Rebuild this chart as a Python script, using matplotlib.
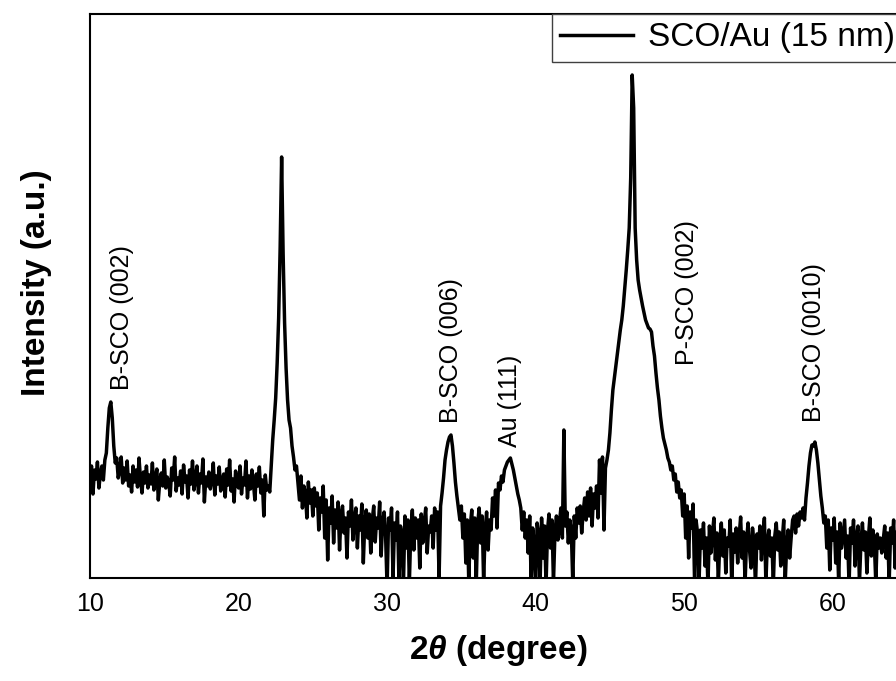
# XRD pattern of SCO/Au (15 nm) film
import matplotlib.pyplot as plt
import numpy as np

plt.rcParams['font.family'] = ['Liberation Sans', 'DejaVu Sans']
plt.rcParams['mathtext.fontset'] = 'custom'
plt.rcParams['mathtext.it'] = 'Liberation Sans:italic:bold'

# -------------------------------
# data (0.1 deg steps, arb. units)
# -------------------------------
start_2theta = 10.0
step_2theta = 0.1

intensity = [
    # 10.0 - 10.9
    95, 112, 84, 108, 99, 116, 90, 104, 112, 98,
    # 11
    118, 125, 150, 170, 176, 160, 132, 115, 120, 100,
    # 12
    108, 121, 95, 110, 98, 117, 92, 103, 86, 112,
    # 13
    96, 108, 91, 120, 99, 85, 106, 95, 112, 90,
    # 14
    103, 94, 115, 88, 100, 109, 78, 97, 105, 92,
    # 15
    118, 90, 101, 95, 82, 110, 98, 121, 87, 100,
    # 16
    93, 107, 84, 113, 96, 102, 80, 108, 94, 117,
    # 17
    88, 99, 112, 85, 104, 95, 119, 76, 101, 92,
    # 18
    106, 89, 98, 115, 83, 102, 94, 111, 87, 97,
    # 19
    104, 81, 109, 93, 118, 87, 99, 76, 107, 95,
    # 20
    90, 112, 84, 100, 93, 117, 80, 102, 89, 108,
    # 21
    95, 78, 104, 92, 111, 85, 98, 62, 103, 88,
    # 22
    92, 86, 112, 138, 158, 180, 215, 260, 330, 421,
    # 23
    325, 255, 210, 178, 158, 150, 132, 121, 108, 112,
    # 24
    95, 78, 102, 70, 92, 84, 60, 96, 75, 88,
    # 25
    62, 90, 72, 85, 48, 80, 66, 92, 40, 78,
    # 26
    18, 70, 55, 82, 35, 68, 50, 76, 28, 64,
    # 27
    72, 45, 60, 20, 66, 52, 78, 38, 58, 70,
    # 28
    30, 62, 48, 74, 15, 56, 68, 40, 64, 25,
    # 29
    58, 72, 36, 60, 50, 76, 22, 55, 66, 42,
    # 30
    -10, 60, 48, 70, 0, 55, 38, 66, -5, 52,
    # 31
    44, -8, 62, 30, 58, -5, 50, 68, 28, 60,
    # 32
    40, 58, 10, 64, 35, 55, 70, 25, 52, 46,
    # 33
    62, 30, 70, 48, 66, 0, 72, 85, 100, 118,
    # 34
    128, 136, 141, 143, 132, 115, 96, 82, 70, 58,
    # 35
    72, 40, 64, 15, 58, -5, 52, 68, 20, 60,
    # 36
    -8, 55, 70, 35, 62, -5, 48, 66, 28, 58,
    # 37
    48, 80, 62, 88, 50, 95, 88, 102, 96, 108,
    # 38
    112, 116, 118, 120, 114, 108, 100, 92, 84, 78,
    # 39
    70, 48, 66, 40, 58, 25, 62, -5, 50, 35,
    # 40
    -10, 55, 44, -5, 60, 20, 52, -8, 48, 64,
    # 41
    30, 58, -5, 45, 62, 38, 55, 70, 40, 148,
    # 42
    52, 66, 35, 58, 48, -5, 62, 40, 70, 55,
    # 43
    72, 45, 66, 80, 58, 86, 62, 90, 52, 84,
    # 44
    70, 92, 60, 118, 85, 121, 48, 110, 118, 128,
    # 45
    145, 168, 188, 200, 212, 224, 236, 248, 258, 272,
    # 46
    290, 308, 328, 350, 400, 503, 470, 350, 318, 298,
    # 47
    288, 280, 272, 265, 258, 254, 250, 249, 246, 232,
    # 48
    222, 205, 190, 178, 162, 150, 140, 134, 128, 120,
    # 49
    116, 108, 112, 98, 104, 86, 96, 80, 88, 62,
    # 50
    84, 40, 72, 20, 66, 50, 74, -5, 58, 45,
    # 51
    -5, 48, 30, 55, 12, 40, -8, 52, 25, 44,
    # 52
    60, 18, 45, -5, 38, 55, 22, 48, 5, 40,
    # 53
    32, 58, -8, 44, 26, 50, 15, 42, 61, 20,
    # 54
    46, -5, 38, 55, 28, 10, 50, 35, -8, 44,
    # 55
    30, 52, 18, 45, 60, -5, 36, 48, 22, 40,
    # 56
    -8, 42, 55, 28, 46, 12, 38, 58, -5, 33,
    # 57
    48, 20, 40, 58, 62, 45, 64, 52, 66, 60,
    # 58
    70, 58, 80, 95, 112, 125, 133, 132, 136, 128,
    # 59
    115, 98, 82, 70, 55, 62, 30, 58, 8, 50,
    # 60
    38, 60, 15, 46, -5, 55, 30, 44, 58, 20,
    # 61
    42, -8, 50, 35, 58, 12, 40, 52, -5, 36,
    # 62
    55, 28, 46, 5, 40, 60, 22, 48, 35, -5,
    # 63
    44, 30, 40, 25, 38, 52, 20, 45, -5, 50,
    # 64
    35, 58, 10, 42, 55, -5, 40, 28, 52, 38,
    # 65
    45,
]

two_theta = start_2theta + step_2theta * np.arange(len(intensity))

# peak labels: text, 2theta position, height where the text starts
peak_labels = ["B-SCO (002)", "B-SCO (006)", "Au (111)", "P-SCO (002)", "B-SCO (0010)"]
peak_x = [12.15, 34.3, 38.3, 50.2, 58.75]
peak_y = [188, 155, 131, 213, 156]

# -------------------------------
# plot
# -------------------------------
fig = plt.figure(figsize=(8.96, 6.81), dpi=100)
ax = fig.add_axes([90 / 896, 1 - 578 / 681, 817 / 896, 564 / 681])

ax.plot(two_theta, intensity, color='black', linewidth=2.5, label='SCO/Au (15 nm)')

for txt, x, y in zip(peak_labels, peak_x, peak_y):
    ax.text(x, y, txt, rotation=90, ha='center', va='bottom', fontsize=18)

ax.set_xlim(10, 65)
ax.set_ylim(0, 564)
ax.set_xticks([10, 20, 30, 40, 50, 60])
ax.set_yticks([])
ax.tick_params(axis='x', length=0, pad=10, labelsize=18)

for s in ax.spines.values():
    s.set_linewidth(1.5)

ax.set_xlabel(r'2$\theta$ (degree)', fontsize=24, fontweight='bold', labelpad=12)
ax.set_ylabel('Intensity (a.u.)', fontsize=24, fontweight='bold')
ax.yaxis.set_label_coords(-0.047, 0.523)

leg = ax.legend(loc='upper right', bbox_to_anchor=(0.996, 1), fontsize=24,
                fancybox=False, framealpha=1, edgecolor='#404040',
                borderpad=0.25, handlelength=2.2, handletextpad=0.45,
                borderaxespad=0)
leg.get_frame().set_linewidth(1.0)

fig.savefig('out.png', dpi=100)
